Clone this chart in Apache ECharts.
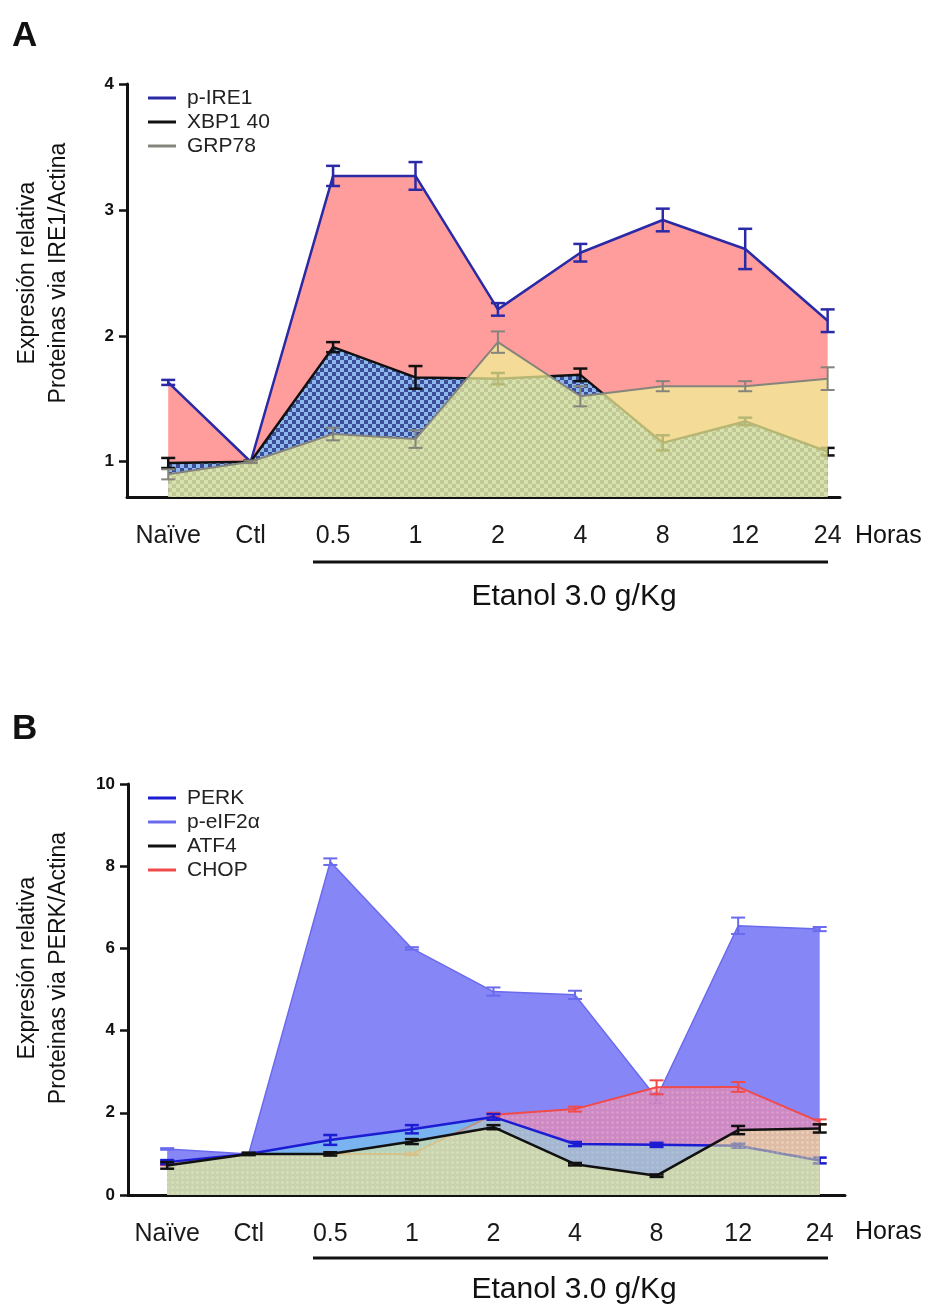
<!DOCTYPE html>
<html>
<head>
<meta charset="utf-8">
<script src="https://cdn.jsdelivr.net/npm/echarts@6/dist/echarts.min.js"></script>
<style>
html, body { margin: 0; background: #fff; }
#chart { width: 930px; height: 1310px; }
</style>
</head>
<body>
<div id="chart"></div>
<script>
// time points, shared by both panels
const categories = ['Naïve', 'Ctl', '0.5', '1', '2', '4', '8', '12', '24']
const positions = [0, 1, 2, 3, 4, 5, 6, 7, 8]

// panel A: IRE1 pathway
const pIre1 = [1.63, 1.00, 3.27, 3.27, 2.21, 2.66, 2.92, 2.69, 2.12]
const pIre1Err = [0.02, 0.01, 0.08, 0.11, 0.05, 0.07, 0.09, 0.16, 0.09]
const xbp1 = [0.99, 1.00, 1.91, 1.67, 1.66, 1.69, 1.15, 1.32, 1.08]
const xbp1Err = [0.04, 0.01, 0.04, 0.09, 0.045, 0.05, 0.06, 0.03, 0.03]
const grp78 = [0.90, 1.00, 1.22, 1.18, 1.95, 1.52, 1.60, 1.60, 1.66]
const grp78Err = [0.04, 0.01, 0.05, 0.07, 0.085, 0.08, 0.04, 0.04, 0.09]
const ticksA = [1, 2, 3, 4]

// panel B: PERK pathway
const peif2a = [1.12, 1.00, 8.11, 6.00, 4.95, 4.87, 2.36, 6.55, 6.47]
const peif2aErr = [0.02, 0.02, 0.08, 0.03, 0.10, 0.10, 0.12, 0.20, 0.05]
const perk = [0.80, 1.00, 1.34, 1.60, 1.90, 1.24, 1.22, 1.20, 0.84]
const perkErr = [0.05, 0.02, 0.12, 0.10, 0.07, 0.05, 0.05, 0.05, 0.07]
const atf4 = [0.72, 1.00, 1.00, 1.30, 1.65, 0.75, 0.47, 1.58, 1.62]
const atf4Err = [0.08, 0.03, 0.04, 0.06, 0.05, 0.03, 0.03, 0.10, 0.10]
const chop = [0.75, 1.00, 1.00, 1.00, 1.95, 2.09, 2.62, 2.63, 1.78]
const chopErr = [0.03, 0.02, 0.03, 0.03, 0.05, 0.06, 0.17, 0.12, 0.06]
const ticksB = [0, 2, 4, 6, 8, 10]

const FONT = '"Liberation Sans", Arial, sans-serif'

function checker(light, dark, size) {
  const cv = document.createElement('canvas')
  cv.width = cv.height = size * 2
  const ctx = cv.getContext('2d')
  ctx.fillStyle = light
  ctx.fillRect(0, 0, size * 2, size * 2)
  ctx.fillStyle = dark
  ctx.fillRect(0, 0, size, size)
  ctx.fillRect(size, size, size, size)
  return { image: cv, repeat: 'repeat' }
}

function dots(base, dot, step) {
  const cv = document.createElement('canvas')
  cv.width = cv.height = step
  const ctx = cv.getContext('2d')
  ctx.fillStyle = base
  ctx.fillRect(0, 0, step, step)
  ctx.fillStyle = dot
  ctx.beginPath()
  ctx.arc(step / 2, step / 2, step / 4, 0, Math.PI * 2)
  ctx.fill()
  return { image: cv, repeat: 'repeat' }
}

// draw order matters: later fills wash over earlier lines, so every series gets its own z
let order = 2

function lineSeries(name, axis, values, color, width, fill) {
  return {
    type: 'line', name, xAxisIndex: axis, yAxisIndex: axis, z: order++,
    data: values.map((v, i) => [positions[i], v]),
    symbol: 'none', silent: true,
    lineStyle: { color, width },
    itemStyle: { color },
    areaStyle: { color: fill, opacity: 1, origin: 'start' },
  }
}

function errorSeries(name, axis, values, errs, color, width, cap) {
  return {
    type: 'custom', name: name + ' err', xAxisIndex: axis, yAxisIndex: axis, z: order++, silent: true,
    data: values.map((v, i) => [positions[i], v, errs[i]]),
    encode: { x: 0, y: 1 },
    renderItem(params, api) {
      const x = api.value(0)
      const y = api.value(1)
      const e = api.value(2)
      const hi = api.coord([x, y + e])
      const lo = api.coord([x, y - e])
      const style = { stroke: color, lineWidth: width }
      return {
        type: 'group',
        children: [
          { type: 'line', shape: { x1: hi[0], y1: hi[1], x2: lo[0], y2: lo[1] }, style },
          { type: 'line', shape: { x1: hi[0] - cap, y1: hi[1], x2: hi[0] + cap, y2: hi[1] }, style },
          { type: 'line', shape: { x1: lo[0] - cap, y1: lo[1], x2: lo[0] + cap, y2: lo[1] }, style },
        ],
      }
    },
  }
}

function xAxisFor(grid, min, max) {
  return {
    type: 'value', gridIndex: grid, min, max,
    axisLine: { show: true, onZero: false, lineStyle: { color: '#111', width: 3 } },
    axisTick: { show: false },
    splitLine: { show: false },
    axisLabel: {
      customValues: positions, margin: 27,
      formatter: (v) => categories[Math.round(v)],
      fontFamily: FONT, fontSize: 25, color: '#1a1a1a',
    },
  }
}

function yAxisFor(grid, min, max, ticks) {
  return {
    type: 'value', gridIndex: grid, min, max,
    axisLine: { show: true, onZero: false, lineStyle: { color: '#111', width: 3 } },
    axisTick: { show: true, customValues: ticks, length: 8, lineStyle: { color: '#111', width: 2.5 } },
    splitLine: { show: false },
    axisLabel: { customValues: ticks, margin: 13, fontFamily: FONT, fontSize: 17, fontWeight: 'bold', color: '#111' },
  }
}

function legendFor(top, names) {
  return {
    left: 143, top, orient: 'vertical', icon: 'rect',
    itemWidth: 28, itemHeight: 3, itemGap: 0,
    textStyle: { fontFamily: FONT, fontSize: 21, color: '#222', lineHeight: 24, padding: [0, 0, 0, 6] },
    selectedMode: false, data: names,
  }
}

function text(x, y, str, size, opts = {}) {
  return {
    type: 'text', x, y, rotation: opts.rotation || 0,
    style: {
      text: str, fontFamily: FONT, fontSize: size, fontWeight: opts.bold ? 'bold' : 'normal',
      fill: '#111', align: opts.align || 'center', verticalAlign: 'middle', lineHeight: opts.lineHeight,
    },
  }
}

function underline(y) {
  return { type: 'line', shape: { x1: 313, y1: y, x2: 828, y2: y }, style: { stroke: '#111', lineWidth: 3 } }
}

const pink = '#ff9c9c'
const xbpFill = checker('#8cb8ee', '#3c4e98', 4)
const grpFill = 'rgba(240, 242, 150, 0.74)'
const purpleFill = '#8686f6'
const chopFill = dots('rgba(255, 140, 160, 0.58)', 'rgba(255, 200, 220, 0.35)', 5)
const perkFill = 'rgba(105, 250, 232, 0.4)'
const atfFill = dots('rgba(240, 240, 140, 0.5)', 'rgba(255, 255, 210, 0.25)', 5)

const chart = echarts.init(document.getElementById('chart'))
chart.setOption({
  animation: false,
  grid: [
    { left: 127, top: 84, width: 713, height: 413 },
    { left: 128, top: 784, width: 717, height: 411 },
  ],
  xAxis: [xAxisFor(0, -0.5, 8.15), xAxisFor(1, -0.48, 8.31)],
  yAxis: [yAxisFor(0, 0.72, 4, ticksA), yAxisFor(1, 0, 10, ticksB)],
  legend: [
    legendFor(81, ['p-IRE1', 'XBP1 40', 'GRP78']),
    legendFor(781, ['PERK', 'p-eIF2α', 'ATF4', 'CHOP']),
  ],
  series: [
    lineSeries('p-IRE1', 0, pIre1, '#2a2aa6', 2.5, pink),
    errorSeries('p-IRE1', 0, pIre1, pIre1Err, '#2a2aa6', 2.5, 7),
    lineSeries('XBP1 40', 0, xbp1, '#111', 2.5, xbpFill),
    errorSeries('XBP1 40', 0, xbp1, xbp1Err, '#111', 2.5, 7),
    lineSeries('GRP78', 0, grp78, '#85857c', 2, grpFill),
    errorSeries('GRP78', 0, grp78, grp78Err, '#85857c', 2, 7),

    lineSeries('p-eIF2α', 1, peif2a, '#6a6aee', 1.5, purpleFill),
    errorSeries('p-eIF2α', 1, peif2a, peif2aErr, '#6a6aee', 2, 7),
    lineSeries('CHOP', 1, chop, '#f04a4a', 2, chopFill),
    errorSeries('CHOP', 1, chop, chopErr, '#f04a4a', 2, 7),
    lineSeries('PERK', 1, perk, '#1c1cd2', 2.5, perkFill),
    errorSeries('PERK', 1, perk, perkErr, '#1c1cd2', 2.5, 7),
    lineSeries('ATF4', 1, atf4, '#111', 2.5, atfFill),
    errorSeries('ATF4', 1, atf4, atf4Err, '#111', 2.5, 7),
  ],
  graphic: [
    text(12, 36, 'A', 35, { bold: true, align: 'left' }),
    text(12, 729, 'B', 35, { bold: true, align: 'left' }),
    text(43, 273, 'Expresión relativa\nProteinas via IRE1/Actina', 23, { rotation: Math.PI / 2, lineHeight: 31 }),
    text(43, 968, 'Expresión relativa\nProteinas via PERK/Actina', 23, { rotation: Math.PI / 2, lineHeight: 31 }),
    text(855, 536, 'Horas', 25, { align: 'left' }),
    text(855, 1232, 'Horas', 25, { align: 'left' }),
    underline(562),
    underline(1258),
    text(574, 597, 'Etanol 3.0 g/Kg', 30),
    text(574, 1290, 'Etanol 3.0 g/Kg', 30),
  ],
})
</script>
</body>
</html>
